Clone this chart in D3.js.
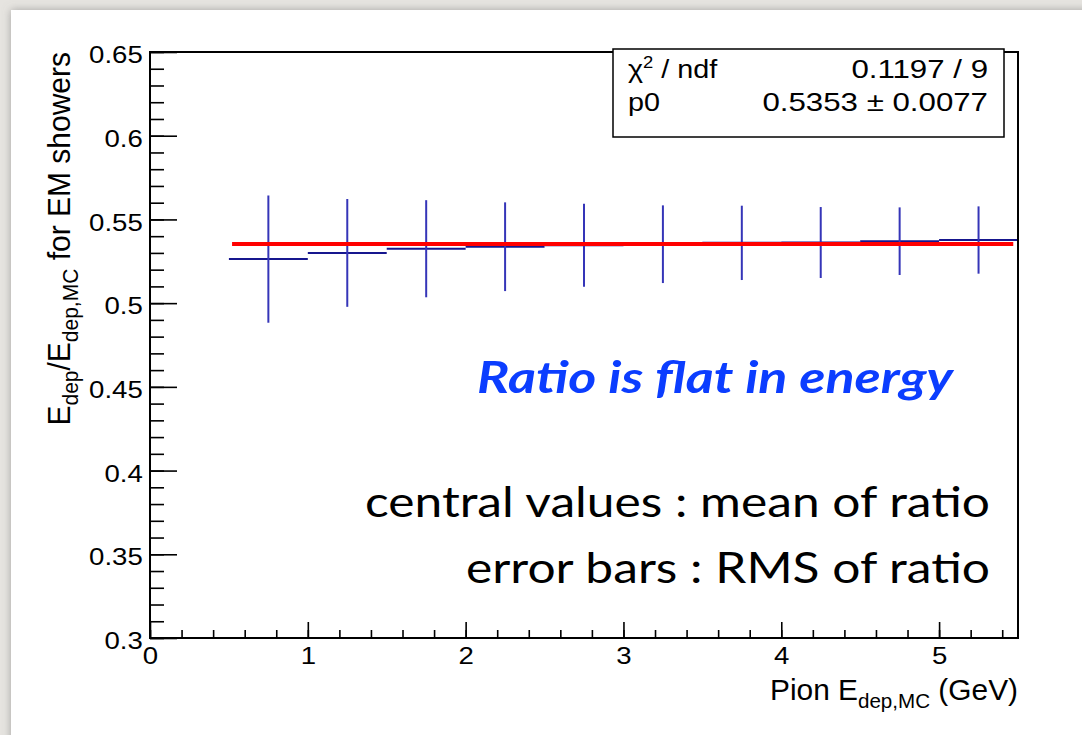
<!DOCTYPE html>
<html>
<head>
<meta charset="utf-8">
<script src="https://cdn.jsdelivr.net/npm/d3@7"></script>
<style>
  body { margin: 0; background: #e4e2de; }
  svg { display: block; }
</style>
</head>
<body>
<div id="chart-area"></div>
<script>
// values
const binLow = [0.5, 1.0, 1.5, 2.0, 2.5, 3.0, 3.5, 4.0, 4.5, 5.0];
const binHigh = [1.0, 1.5, 2.0, 2.5, 3.0, 3.5, 4.0, 4.5, 5.0, 5.5];
const ratioMean = [0.5263, 0.5300, 0.5325, 0.5337, 0.5346, 0.5352, 0.5360, 0.5362, 0.5370, 0.5377];
const ratioRms = [0.0380, 0.0322, 0.0290, 0.0265, 0.0248, 0.0232, 0.0222, 0.0212, 0.0202, 0.0201];
const fitP0 = 0.5353;
const fitRange = [0.52, 5.47];
const xTicks = [0, 1, 2, 3, 4, 5];
const yTicks = [0.3, 0.35, 0.4, 0.45, 0.5, 0.55, 0.6, 0.65];
const yTickLabels = ['0.3', '0.35', '0.4', '0.45', '0.5', '0.55', '0.6', '0.65'];
const statsNames = ['χ', 'p0'];
const statsValues = ['0.1197 / 9', '0.5353 ± 0.0077'];

const W = 1082, H = 735;
const margin = {left: 150, right: 64, top: 52, bottom: 97};
const width = W - margin.left - margin.right;
const height = H - margin.top - margin.bottom;
const sx = 1.2; // the picture is stretched sideways a bit
const rootFont = '"Liberation Sans", Arial, Helvetica, sans-serif';

const svg = d3.select('#chart-area')
  .append('svg')
  .attr('width', W)
  .attr('height', H);

// shadowed white card on grey
const defs = svg.append('defs');
const f = defs.append('filter').attr('id', 'shadow')
  .attr('x', -0.05).attr('y', -0.05).attr('width', 1.2).attr('height', 1.2);
f.append('feDropShadow').attr('dx', 0).attr('dy', 0)
  .attr('stdDeviation', 4).attr('flood-color', '#777').attr('flood-opacity', 0.6);

svg.append('rect').attr('width', W).attr('height', H).attr('fill', '#e6e4e0');
svg.append('rect')
  .attr('x', 11).attr('y', 10)
  .attr('width', W + 50).attr('height', H + 50)
  .attr('fill', '#fff')
  .attr('filter', 'url(#shadow)');

const g = svg.append('g')
  .attr('transform', `translate(${margin.left}, ${margin.top})`);

const x = d3.scaleLinear().domain([0, 5.5]).range([0, width]);
const y = d3.scaleLinear().domain([0.3, 0.65]).range([height, 0]);

// minor ticks
const xMinor = d3.range(0, 28).map(d => d * 0.2);
const yMinor = d3.range(30, 66).map(d => d / 100);

g.append('g')
  .attr('transform', `translate(0, ${height})`)
  .call(d3.axisBottom(x).tickValues(xMinor).tickSize(-8).tickFormat(''))
  .call(a => a.select('.domain').remove());
g.append('g')
  .call(d3.axisLeft(y).tickValues(yMinor).tickSize(-14).tickFormat(''))
  .call(a => a.select('.domain').remove());

// major ticks
const xAxisGroup = g.append('g')
  .attr('transform', `translate(0, ${height})`)
  .call(d3.axisBottom(x).tickValues(xTicks).tickSize(-16).tickPadding(10).tickFormat(d3.format('d')));
const yAxisGroup = g.append('g')
  .call(d3.axisLeft(y).tickValues(yTicks).tickSize(-27).tickPadding(6)
    .tickFormat((d, i) => yTickLabels[i]));

[xAxisGroup, yAxisGroup].forEach(ax => {
  ax.select('.domain').remove();
  ax.selectAll('text')
    .attr('font-family', rootFont)
    .attr('font-size', 23)
    .attr('fill', '#000')
    .attr('transform', `scale(${sx}, 1)`);
});
yAxisGroup.selectAll('text').attr('dy', '0.46em');
g.selectAll('.tick line').attr('stroke', '#000').attr('stroke-width', 1.6);

// error bars
const pts = ratioMean.map((m, i) => ({lo: binLow[i], hi: binHigh[i], m: m, e: ratioRms[i]}));

g.selectAll('.xerr')
  .data(pts)
  .enter().append('line')
  .attr('class', 'xerr')
  .attr('x1', d => x(d.lo)).attr('x2', d => x(d.hi))
  .attr('y1', d => y(d.m)).attr('y2', d => y(d.m))
  .attr('stroke', '#16168e').attr('stroke-width', 2);

g.selectAll('.yerr')
  .data(pts)
  .enter().append('line')
  .attr('class', 'yerr')
  .attr('x1', d => x((d.lo + d.hi) / 2)).attr('x2', d => x((d.lo + d.hi) / 2))
  .attr('y1', d => y(d.m - d.e)).attr('y2', d => y(d.m + d.e))
  .attr('stroke', '#3535b8').attr('stroke-width', 2);

// fit line
g.append('line')
  .attr('x1', x(fitRange[0])).attr('x2', x(fitRange[1]))
  .attr('y1', y(fitP0)).attr('y2', y(fitP0))
  .attr('stroke', '#ff0000').attr('stroke-width', 4);

// frame
g.append('rect')
  .attr('width', width).attr('height', height)
  .attr('fill', 'none').attr('stroke', '#000').attr('stroke-width', 2);

// stats box
const stats = svg.append('g').attr('font-family', rootFont).attr('font-size', 25);
stats.append('rect')
  .attr('x', 613).attr('y', 49).attr('width', 391).attr('height', 88)
  .attr('fill', '#fff').attr('stroke', '#000').attr('stroke-width', 1.5);

const chi = stats.append('text').attr('transform', 'translate(628, 78) scale(1.15, 1)');
chi.append('tspan').text(statsNames[0]);
chi.append('tspan').attr('font-size', 16).attr('dy', -10).text('2');
chi.append('tspan').attr('dy', 10).text(' / ndf');
stats.append('text').attr('transform', 'translate(628, 111) scale(1.15, 1)').text(statsNames[1]);
statsValues.forEach((v, i) => {
  stats.append('text')
    .attr('transform', `translate(988, ${78 + i * 33}) scale(1.25, 1)`)
    .attr('text-anchor', 'end')
    .text(v);
});

// axis titles
const xt = svg.append('text')
  .attr('transform', 'translate(1018, 700) scale(1.03, 1)')
  .attr('text-anchor', 'end')
  .attr('font-family', rootFont).attr('font-size', 29);
xt.append('tspan').text('Pion E');
xt.append('tspan').attr('font-size', 20).attr('dy', 8).text('dep,MC');
xt.append('tspan').attr('dy', -8).text(' (GeV)');

const yt = svg.append('text')
  .attr('transform', 'translate(70, 52) scale(1.05, 1) rotate(-90)')
  .attr('text-anchor', 'end')
  .attr('font-family', rootFont).attr('font-size', 30);
yt.append('tspan').text('E');
yt.append('tspan').attr('font-size', 21).attr('dy', 8).text('dep');
yt.append('tspan').attr('dy', -8).text('/E');
yt.append('tspan').attr('font-size', 21).attr('dy', 8).text('dep,MC');
yt.append('tspan').attr('dy', -8).text(' for EM showers');

// notes on the slide
svg.append('text')
  .attr('x', 477).attr('y', 393)
  .attr('font-family', 'Lato, sans-serif').attr('font-weight', 700).attr('font-style', 'italic')
  .attr('font-size', 44).attr('fill', '#0b3dff')
  .attr('textLength', 476).attr('lengthAdjust', 'spacingAndGlyphs')
  .text('Ratio is flat in energy');

svg.append('text')
  .attr('x', 365).attr('y', 517)
  .attr('font-family', 'Lato, sans-serif').attr('font-size', 42).attr('fill', '#000')
  .attr('textLength', 625).attr('lengthAdjust', 'spacingAndGlyphs')
  .text('central values : mean of ratio');

svg.append('text')
  .attr('x', 466).attr('y', 583)
  .attr('font-family', 'Lato, sans-serif').attr('font-size', 42).attr('fill', '#000')
  .attr('textLength', 524).attr('lengthAdjust', 'spacingAndGlyphs')
  .text('error bars : RMS of ratio');
</script>
</body>
</html>
